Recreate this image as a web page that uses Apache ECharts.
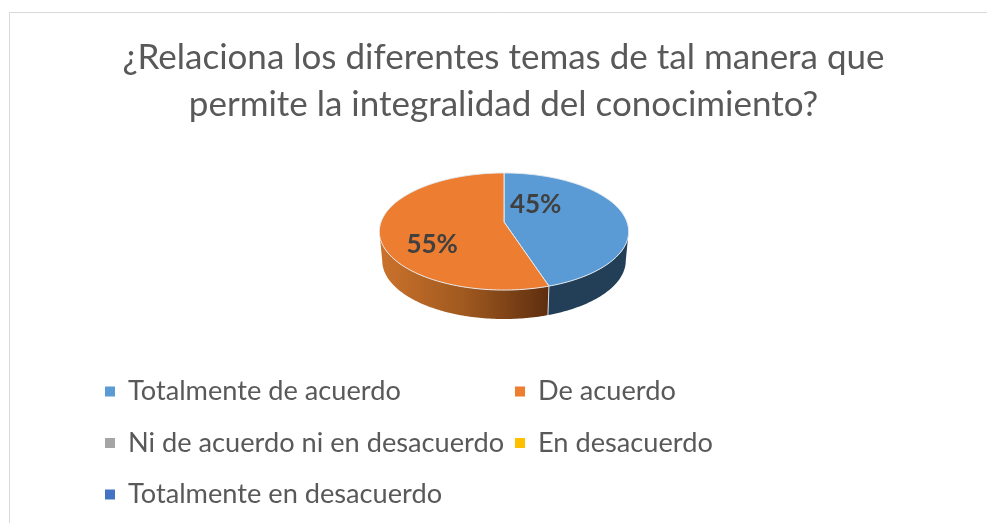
<!DOCTYPE html>
<html>
<head>
<meta charset="utf-8">
<style>
  html, body { margin: 0; padding: 0; background: #fff; }
  #chart { width: 987px; height: 523px; }
</style>
<script src="https://cdn.jsdelivr.net/npm/echarts@6/dist/echarts.min.js"></script>
</head>
<body>
<div id="chart"></div>
<script>
const titleLines = ['¿Relaciona los diferentes temas de tal manera que', 'permite la integralidad del conocimiento?'];
const categories = ['Totalmente de acuerdo', 'De acuerdo', 'Ni de acuerdo ni en desacuerdo', 'En desacuerdo', 'Totalmente en desacuerdo'];
const values = [45, 55, 0, 0, 0];
const colors = ['#5B9BD5', '#ED7D31', '#A5A5A5', '#FFC000', '#4472C4'];
const leftColumn = [categories[0], categories[2], categories[4]];
const rightColumn = [categories[1], categories[3]];

// the pie is tilted like an Office 3D pie, so it goes through a small perspective
const pie = { cx: 504, cy: 222, a: 123, b: 57, k: 0.1624, depth: 29, baseScale: 0.977 };
// where each percent label sits on the unit disc
const labelSpots = [[0.271, -0.333], [-0.55, 0.363]];
const wallFrom = 99.3;
const wallTo = 260.7;

function project(u, v) {
  const w = 1 - pie.k * v;
  return [pie.cx + pie.a * u / w, pie.cy + pie.b * v / w];
}
function rim(deg) {
  const t = deg * Math.PI / 180;
  return project(Math.sin(t), -Math.cos(t));
}
function base(deg) {
  const p = rim(deg);
  return [pie.cx + (p[0] - pie.cx) * pie.baseScale, p[1] + pie.depth];
}
function arc(fn, from, to) {
  const pts = [];
  const n = Math.max(2, Math.ceil(Math.abs(to - from)));
  for (let i = 0; i <= n; i++) {
    pts.push(fn(from + (to - from) * i / n));
  }
  return pts;
}

const total = values.reduce((a, b) => a + b, 0);

function sliceItem(index) {
  return function (params, api) {
    const value = api.value(0);
    if (!value) {
      return { type: 'group', children: [] };
    }
    let before = 0;
    for (let i = 0; i < index; i++) {
      before += values[i];
    }
    const start = before / total * 360;
    const end = (before + value) / total * 360;
    const children = [];

    // side wall, only the part facing the viewer
    const from = Math.max(start, wallFrom);
    const to = Math.min(end, wallTo);
    if (to > from) {
      const wall = arc(rim, from, to).concat(arc(base, to, from));
      children.push({
        type: 'polygon',
        shape: { points: wall },
        style: {
          fill: index === 1
            ? new echarts.graphic.LinearGradient(0, 0, 1, 0, [
              { offset: 0, color: '#CB722C' },
              { offset: 0.5, color: '#A0591F' },
              { offset: 1, color: '#5E2E0F' }
            ])
            : '#223F57',
          stroke: null
        }
      });
      children.push({
        type: 'polyline',
        shape: { points: [rim(start), base(start)] },
        invisible: start < wallFrom,
        style: { stroke: '#D5DBE0', lineWidth: 1, fill: null }
      });
    }

    children.push({
      type: 'polygon',
      shape: { points: [project(0, 0)].concat(arc(rim, start, end)) },
      style: { fill: colors[index], stroke: '#E4E9EE', lineWidth: 1 }
    });

    const spot = project(labelSpots[index][0], labelSpots[index][1]);
    children.push({
      type: 'text',
      x: spot[0],
      y: spot[1] + 1,
      style: {
        text: Math.round(value / total * 100) + '%',
        fill: '#404040',
        font: 'bold 26px Lato, sans-serif',
        align: 'center',
        verticalAlign: 'middle'
      }
    });
    return { type: 'group', children: children };
  };
}

const legendBase = {
  orient: 'vertical',
  top: 373,
  icon: 'rect',
  itemWidth: 10,
  itemHeight: 10,
  itemGap: 24.5,
  textStyle: { color: '#595959', fontSize: 27.2, fontFamily: 'Lato', padding: [0, 0, 0, 8] }
};

const chart = echarts.init(document.getElementById('chart'));
chart.setOption({
  animation: false,
  title: {
    text: titleLines.join('\n'),
    left: 498.5,
    top: 29,
    textAlign: 'center',
    textStyle: { color: '#595959', fontSize: 35, fontWeight: 'normal', fontFamily: 'Lato', lineHeight: 47 }
  },
  legend: [
    Object.assign({}, legendBase, { left: 100, data: leftColumn }),
    Object.assign({}, legendBase, { left: 510, data: rightColumn })
  ],
  graphic: [{
    type: 'rect',
    silent: true,
    z: -1,
    shape: { x: 9.5, y: 12.5, width: 1100, height: 700 },
    style: { fill: null, stroke: '#D9D9D9', lineWidth: 1 }
  }],
  series: categories.map((name, i) => ({
    type: 'custom',
    name: name,
    coordinateSystem: 'none',
    itemStyle: { color: colors[i] },
    renderItem: sliceItem(i),
    data: [[values[i]]]
  }))
});
</script>
</body>
</html>
